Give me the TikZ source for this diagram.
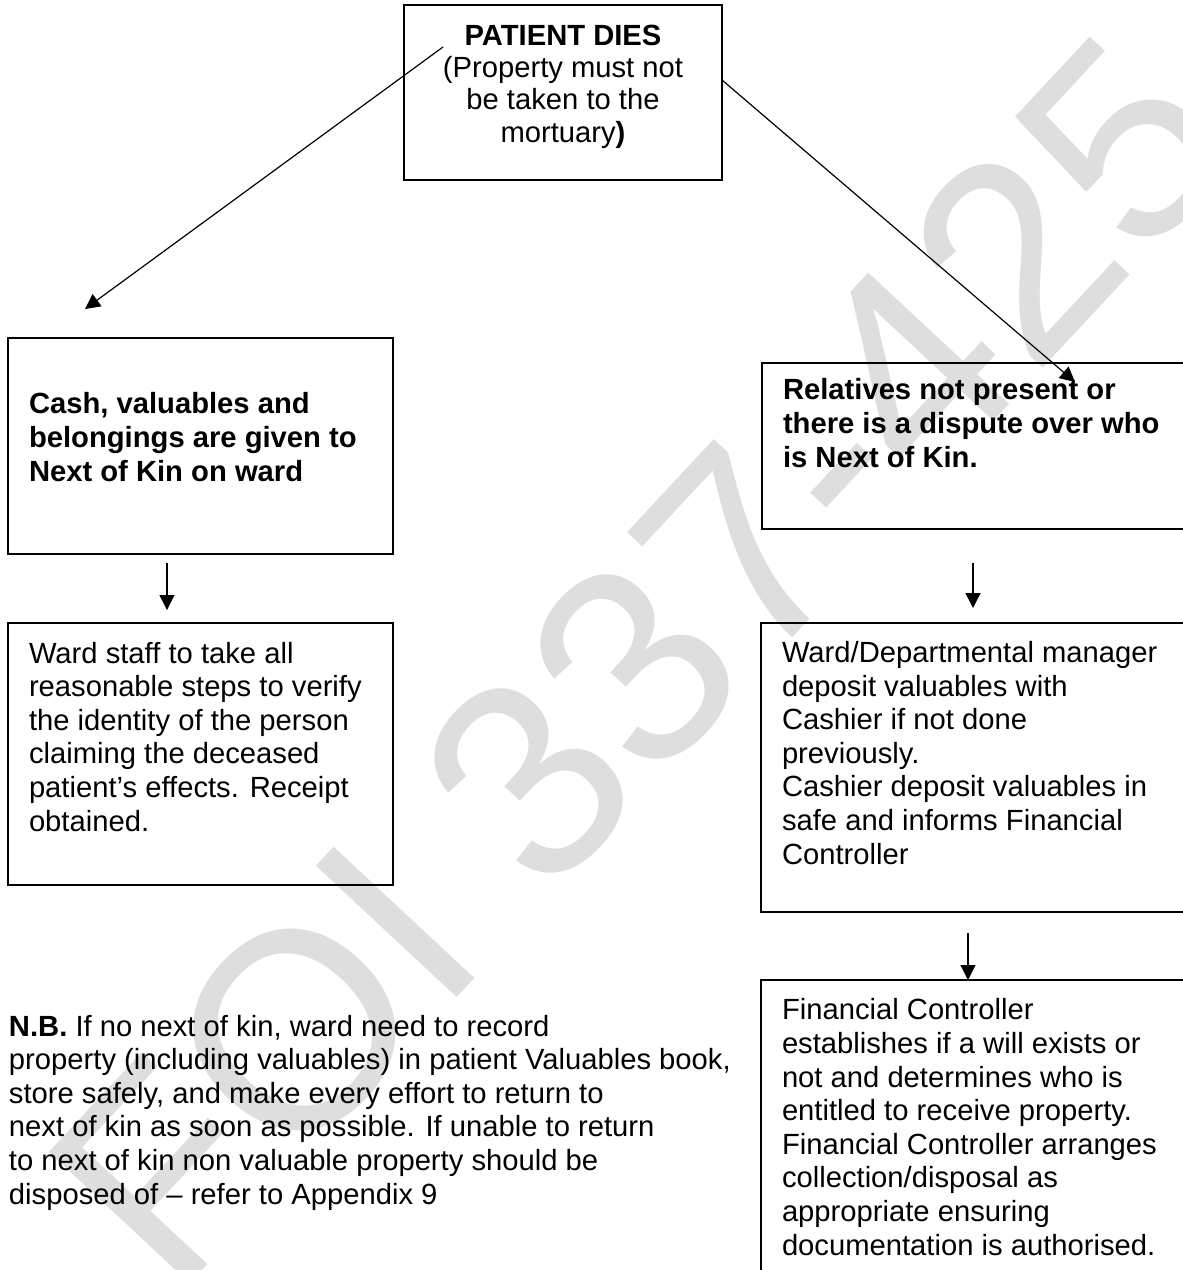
\documentclass[tikz,border=0pt]{standalone}
\usepackage{fontspec}
\setmainfont{Liberation Sans}
\usetikzlibrary{arrows.meta,positioning}
\tikzset{%
   flowbox/.style={rectangle, draw=black, line width=1pt, inner sep=0mm, outer sep=0mm, anchor=north west},
   boxtext/.style={inner sep=0mm, outer sep=0mm, anchor=base west, align=left,
     font=\fontsize{14.6}{16.8}\selectfont},
   arr/.style={-{Triangle[length=7.5pt, width=7.5pt]}, line width=0.6pt},
   wmark/.style={text=black!13, inner sep=0mm, rotate=47,
     font=\fontsize{140}{140}\selectfont},
}

\begin{document}
\begin{tikzpicture}[x=0.5pt, y=-0.5pt]
      \useasboundingbox (0,0) rectangle (1183,1270);
      \clip (0,0) rectangle (1183,1270);
      \node[wmark] (foi) at (640,660) {FOI 337-425};
      % boxes
      \node[flowbox, minimum width=159pt, minimum height=87.5pt] (dies) at (404,5) {};
      \node[flowbox, minimum width=192.5pt, minimum height=108pt] (cash) at (8,338) {};
      \node[flowbox, minimum width=216.5pt, minimum height=83pt] (rel) at (762,363) {};
      \node[flowbox, minimum width=192.5pt, minimum height=131pt] (staff) at (8,623) {};
      \node[flowbox, minimum width=217pt, minimum height=144.5pt] (mgr) at (761,623) {};
      \node[flowbox, minimum width=217pt, minimum height=155pt] (fin) at (761,980) {};
      % texts (placed by the baseline of their last line)
      \node[boxtext, anchor=base, align=center, font=\fontsize{14.6}{16.1}\selectfont] (diestxt) at (563,142)
        {\textbf{PATIENT DIES}\\(Property must not\\be taken to the\\mortuary\textbf{)}};
      \node[boxtext, font=\bfseries\fontsize{14.6}{16.8}\selectfont] (cashtxt) at (29,481)
        {Cash, valuables and\\belongings are given to\\Next of Kin on ward};
      \node[boxtext, font=\bfseries\fontsize{14.6}{16.8}\selectfont] (reltxt) at (783,467)
        {Relatives not present or\\there is a dispute over who\\is Next of Kin.};
      \node[boxtext] (stafftxt) at (29,831)
        {Ward staff to take all\\reasonable steps to verify\\the identity of the person\\claiming the deceased\\patient’s effects. Receipt\\obtained.};
      \node[boxtext] (mgrtxt) at (782,864)
        {Ward/Departmental manager\\deposit valuables with\\Cashier if not done\\previously.\\Cashier deposit valuables in\\safe and informs Financial\\Controller};
      \node[boxtext] (fintxt) at (782,1255)
        {Financial Controller\\establishes if a will exists or\\not and determines who is\\entitled to receive property.\\Financial Controller arranges\\collection/disposal as\\appropriate ensuring\\documentation is authorised.};
      \node[boxtext] (nb) at (9,1204)
        {\textbf{N.B.} If no next of kin, ward need to record\\property (including valuables) in patient Valuables book,\\store safely, and make every effort to return to\\next of kin as soon as possible. If unable to return\\to next of kin non valuable property should be\\disposed of – refer to Appendix 9};
      % arrows
      \draw[arr] ([xshift=19.5pt, yshift=-21pt]dies.north west) -- ([xshift=38.5pt, yshift=14.5pt]cash.north west);
      \draw[arr] ([yshift=-37.5pt]dies.north east) -- ([xshift=156.5pt, yshift=-9.5pt]rel.north west);
      \draw[arr] ([xshift=-16.75pt, yshift=-4.5pt]cash.south) -- ([xshift=-16.75pt, yshift=6.5pt]staff.north);
      \draw[arr] ([xshift=-2.75pt, yshift=-17pt]rel.south) -- ([xshift=-2.5pt, yshift=7.5pt]mgr.north);
      \draw[arr] ([xshift=-5pt, yshift=-10.5pt]mgr.south) -- ([xshift=-5pt]fin.north);
\end{tikzpicture}
\end{document}
